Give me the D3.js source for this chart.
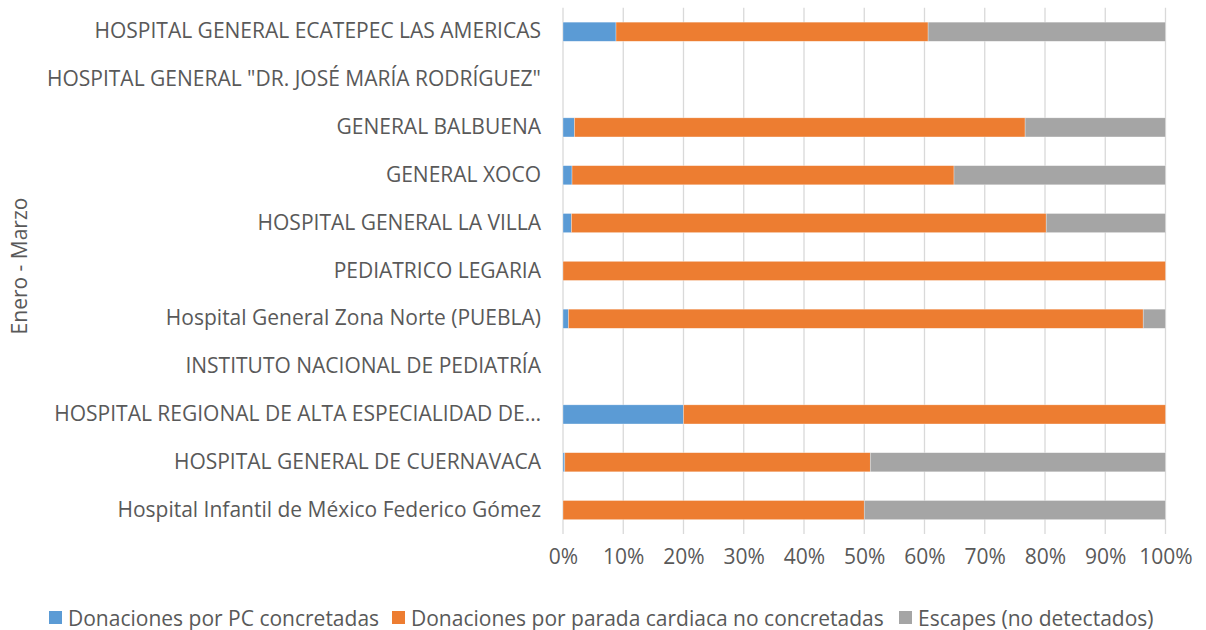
<!DOCTYPE html>
<html>
<head>
<meta charset="utf-8">
<script src="https://cdn.jsdelivr.net/npm/d3@7"></script>
<style>
  body { margin: 0; background: #fff; }
  text { font-family: "Open Sans", "Segoe UI", sans-serif; fill: #595959; }
</style>
</head>
<body>
<svg id="chart" width="1206" height="630"></svg>
<script>
// categories top to bottom
const hospitals = [
  "HOSPITAL GENERAL ECATEPEC LAS AMERICAS",
  "HOSPITAL GENERAL \"DR. JOSÉ MARÍA RODRÍGUEZ\"",
  "GENERAL BALBUENA",
  "GENERAL XOCO",
  "HOSPITAL GENERAL LA VILLA",
  "PEDIATRICO LEGARIA",
  "Hospital General Zona Norte (PUEBLA)",
  "INSTITUTO NACIONAL DE PEDIATRÍA",
  "HOSPITAL REGIONAL DE ALTA ESPECIALIDAD DE…",
  "HOSPITAL GENERAL DE CUERNAVACA",
  "Hospital Infantil de México Federico Gómez"
];
// shares in percent
const concretadas   = [8.8, 0, 1.9, 1.5, 1.4, 0, 0.9, 0, 20, 0.3, 0];
const noConcretadas = [51.8, 0, 74.8, 63.4, 78.8, 100, 95.4, 0, 80, 50.7, 50];
const escapes       = [39.4, 0, 23.3, 35.1, 19.8, 0, 3.7, 0, 0, 49, 50];

const seriesNames = [
  "Donaciones por PC concretadas",
  "Donaciones por parada cardiaca no concretadas",
  "Escapes (no detectados)"
];
const colors = ["#5B9BD5", "#ED7D31", "#A5A5A5"];
const ticks = d3.range(0, 101, 10);

const svg = d3.select("#chart");
const plotLeft = 563, plotRight = 1165.5, plotTop = 7.8, plotBottom = 534;
const fontSize = "21px";

const x = d3.scaleLinear().domain([0, 100]).range([plotLeft, plotRight]);
const y = d3.scaleBand().domain(hospitals).range([plotTop, plotBottom]).paddingInner(0.6).paddingOuter(0.3);

// gridlines
svg.append("g").selectAll("line")
  .data(ticks)
  .join("line")
  .attr("x1", d => x(d)).attr("x2", d => x(d))
  .attr("y1", plotTop).attr("y2", plotBottom)
  .attr("stroke", "#d9d9d9")
  .attr("stroke-width", 1.3);

// stacked bars
const rows = hospitals.map((h, i) => ({
  name: h, c: concretadas[i], n: noConcretadas[i], e: escapes[i]
}));
const stack = d3.stack().keys(["c", "n", "e"]);
const layers = stack(rows);

svg.append("g").selectAll("g")
  .data(layers)
  .join("g")
  .attr("fill", (d, i) => colors[i])
  .selectAll("rect")
  .data(d => d.filter(v => v[1] - v[0] > 0))
  .join("rect")
  .attr("x", d => x(d[0]))
  .attr("width", d => x(d[1]) - x(d[0]))
  .attr("y", d => y(d.data.name))
  .attr("height", y.bandwidth())
  .attr("stroke", "#fff")
  .attr("stroke-opacity", 0.5)
  .attr("stroke-width", 0.6);

// x axis labels
svg.append("g")
  .attr("transform", `translate(0,${plotBottom})`)
  .call(d3.axisBottom(x).tickValues(ticks).tickFormat(d => d + "%").tickSize(0).tickPadding(15))
  .call(g => g.select(".domain").remove())
  .selectAll("text")
  .style("font-size", fontSize)
  .style("font-family", "'Open Sans', sans-serif")
  .attr("fill", "#595959");

// y axis labels
svg.append("g")
  .attr("transform", `translate(${plotLeft},0)`)
  .call(d3.axisLeft(y).tickSize(0).tickPadding(22))
  .call(g => g.select(".domain").remove())
  .selectAll("text")
  .style("font-size", fontSize)
  .style("font-family", "'Open Sans', sans-serif")
  .attr("fill", "#595959");

// axis title
svg.append("text")
  .attr("transform", "translate(27,266) rotate(-90)")
  .attr("text-anchor", "middle")
  .style("font-size", "21px")
  .text("Enero - Marzo");

// legend
const legendX = [49, 392, 899];
const legend = svg.append("g").selectAll("g")
  .data(seriesNames)
  .join("g")
  .attr("transform", (d, i) => `translate(${legendX[i]},611)`);
legend.append("rect")
  .attr("width", 13).attr("height", 13)
  .attr("fill", (d, i) => colors[i]);
legend.append("text")
  .attr("x", 19).attr("y", 14.5)
  .style("font-size", fontSize)
  .text(d => d);
</script>
</body>
</html>
